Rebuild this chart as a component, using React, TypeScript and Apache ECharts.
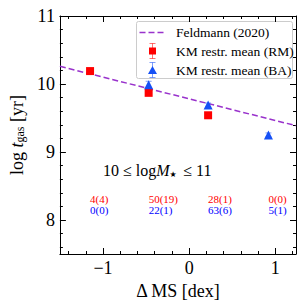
import React, { useEffect, useRef } from "react";
import * as echarts from "echarts";

const xMajor = [-1, 0, 1];
const xMinor = [-1.4, -1.2, -0.8, -0.6, -0.4, -0.2, 0.2, 0.4, 0.6, 0.8, 1.2];
const yMajor = [8, 9, 10, 11];
const yMinor = [7.6, 7.8, 8.2, 8.4, 8.6, 8.8, 9.2, 9.4, 9.6, 9.8, 10.2, 10.4, 10.6, 10.8];

const binX = [-1.15, -0.47, 0.22, 0.92];
const rmX = [-1.15, -0.47, 0.22];
const rmY = [10.19, 9.87, 9.54];
const rmErr = [0.03, 0.03, 0.04];
const baX = [-0.47, 0.22, 0.92];
const baY = [9.99, 9.69, 9.25];
const baErr = [0.05, 0.03, 0.03];
const feldX = [-1.5, 1.24];
const feldY = [10.26, 9.387];
const rmCounts = ["4(4)", "50(19)", "28(1)", "0(0)"];
const baCounts = ["0(0)", "22(1)", "63(6)", "5(1)"];

const FONT = "Liberation Serif";
const RED = "#ff0000";
const BLUE = "#1550f5";
const PURPLE = "#9932cc";

export default function App() {
  const ref = useRef<HTMLDivElement>(null);
  useEffect(() => {
    if (!ref.current) return;
    const chart = echarts.init(ref.current, null, { renderer: "svg" });
    const xMin = -1.5, xMax = 1.24, yMin = 7.5, yMax = 11;
    const fmt = (v: number) => String(v).replace("-", "\u2212");
    const mkX = (pos: string, major: boolean, labels: boolean, extra: any = {}) => ({
      type: "value", min: xMin, max: xMax, position: pos,
      axisLine: { show: major, onZero: false, lineStyle: { color: "#000", width: 1 } },
      axisTick: { show: true, inside: true, length: major ? 6 : 3, customValues: major ? xMajor : xMinor, lineStyle: { color: "#000", width: 1 } },
      axisLabel: { show: labels, customValues: xMajor, formatter: fmt, fontFamily: FONT, fontSize: 18, color: "#000", margin: 5 },
      splitLine: { show: false },
      ...extra,
    });
    const mkY = (pos: string, major: boolean, labels: boolean, extra: any = {}) => ({
      type: "value", min: yMin, max: yMax, position: pos,
      axisLine: { show: major, onZero: false, lineStyle: { color: "#000", width: 1 } },
      axisTick: { show: true, inside: true, length: major ? 6 : 3, customValues: major ? yMajor : yMinor, lineStyle: { color: "#000", width: 1 } },
      axisLabel: { show: labels, customValues: yMajor, formatter: fmt, fontFamily: FONT, fontSize: 18, color: "#000", margin: 5 },
      splitLine: { show: false },
      ...extra,
    });
    const errSeries = (xs: number[], ys: number[], es: number[], color: string) => ({
      type: "custom",
      xAxisIndex: 0, yAxisIndex: 0,
      z: 3,
      data: xs.map((x, i) => [x, ys[i], es[i]]),
      renderItem: (params: any, api: any) => {
        const x = api.value(0), y = api.value(1), e = api.value(2);
        const t = api.coord([x, y + e]);
        const b = api.coord([x, y - e]);
        const st = { stroke: color, lineWidth: 1, opacity: 0.55 };
        return {
          type: "group",
          children: [
            { type: "line", shape: { x1: t[0], y1: t[1], x2: b[0], y2: b[1] }, style: st },
            { type: "line", shape: { x1: t[0] - 3, y1: t[1], x2: t[0] + 3, y2: t[1] }, style: st },
            { type: "line", shape: { x1: b[0] - 3, y1: b[1], x2: b[0] + 3, y2: b[1] }, style: st },
          ],
        };
      },
    });
    const countSeries = (labels: string[], yPos: number, color: string) => ({
      type: "custom",
      xAxisIndex: 0, yAxisIndex: 0,
      data: binX.map((x, i) => [x, yPos, i]),
      renderItem: (params: any, api: any) => {
        const p = api.coord([api.value(0), api.value(1)]);
        return {
          type: "text",
          x: p[0], y: p[1],
          style: { text: labels[api.value(2)], fill: color, font: `11px "${FONT}"`, textAlign: "left", textVerticalAlign: "middle" },
        };
      },
    });
    const L = 136, T = 21;
    chart.setOption({
      animation: false,
      grid: { left: 58, right: 11, top: 16, bottom: 54, containLabel: false },
      xAxis: [
        mkX("bottom", true, true, {
          name: "\u0394 MS [dex]", nameLocation: "middle", nameGap: 26,
          nameTextStyle: { fontFamily: FONT, fontSize: 18, color: "#000" },
        }),
        mkX("bottom", false, false),
        mkX("top", true, false),
        mkX("top", false, false),
      ],
      yAxis: [
        mkY("left", true, true, {
          name: "{r|log }{i|t}{s|gas}{r| [yr]}", nameLocation: "middle", nameGap: 30,
          nameTextStyle: {
            fontFamily: FONT, fontSize: 18, color: "#000",
            rich: {
              r: { fontFamily: FONT, fontSize: 18, color: "#000", verticalAlign: "bottom", lineHeight: 22 },
              i: { fontFamily: FONT, fontSize: 18, fontStyle: "italic", color: "#000", verticalAlign: "bottom", lineHeight: 22 },
              s: { fontFamily: FONT, fontSize: 12, color: "#000", verticalAlign: "bottom", lineHeight: 13 },
            },
          },
        }),
        mkY("left", false, false),
        mkY("right", true, false),
        mkY("right", false, false),
      ],
      series: [
        {
          type: "line", xAxisIndex: 0, yAxisIndex: 0,
          data: feldX.map((x, i) => [x, feldY[i]]),
          symbol: "none",
          lineStyle: { color: PURPLE, width: 1.5, type: [6, 3] },
          z: 2,
        },
        errSeries(rmX, rmY, rmErr, RED),
        errSeries(baX, baY, baErr, BLUE),
        {
          type: "scatter", xAxisIndex: 0, yAxisIndex: 0,
          data: rmX.map((x, i) => [x, rmY[i]]),
          symbol: "rect", symbolSize: 8,
          itemStyle: { color: RED, opacity: 1 }, z: 4,
        },
        {
          type: "scatter", xAxisIndex: 0, yAxisIndex: 0,
          data: baX.map((x, i) => [x, baY[i]]),
          symbol: "triangle", symbolSize: 9,
          itemStyle: { color: BLUE, opacity: 1 }, z: 4,
        },
        countSeries(rmCounts, 8.31, "#ff0000"),
        countSeries(baCounts, 8.15, "#0000ff"),
      ],
      graphic: [
        {
          type: "text", left: 103, top: 162,
          style: {
            text: "{r|10 \u2264 log}{i|M}{s|\u2605 }{r| \u2264 11}",
            rich: {
              r: { fontFamily: FONT, fontSize: 16, fill: "#000", verticalAlign: "bottom", lineHeight: 20 },
              i: { fontFamily: FONT, fontSize: 16, fontStyle: "italic", fill: "#000", verticalAlign: "bottom", lineHeight: 20 },
              s: { fontFamily: "DejaVu Sans", fontSize: 8, fill: "#000", verticalAlign: "bottom", lineHeight: 11 },
            },
          },
        },
        {
          type: "group", left: L, top: T,
          children: [
            { type: "rect", shape: { x: 0, y: 0, width: 156, height: 57, r: 2 }, style: { fill: "#fff", stroke: "#cccccc", lineWidth: 1 } },
            { type: "line", shape: { x1: 3, y1: 11, x2: 28, y2: 11 }, style: { stroke: PURPLE, lineWidth: 1.5, lineDash: [6, 3] } },
            { type: "line", shape: { x1: 16, y1: 22, x2: 16, y2: 37 }, style: { stroke: RED, lineWidth: 1, opacity: 0.55 } },
            { type: "line", shape: { x1: 13, y1: 22, x2: 19, y2: 22 }, style: { stroke: RED, lineWidth: 1, opacity: 0.55 } },
            { type: "line", shape: { x1: 13, y1: 37, x2: 19, y2: 37 }, style: { stroke: RED, lineWidth: 1, opacity: 0.55 } },
            { type: "rect", shape: { x: 12.5, y: 26, width: 7, height: 7 }, style: { fill: RED } },
            { type: "line", shape: { x1: 16, y1: 41, x2: 16, y2: 56 }, style: { stroke: BLUE, lineWidth: 1, opacity: 0.55 } },
            { type: "line", shape: { x1: 13, y1: 41, x2: 19, y2: 41 }, style: { stroke: BLUE, lineWidth: 1, opacity: 0.55 } },
            { type: "line", shape: { x1: 13, y1: 56, x2: 19, y2: 56 }, style: { stroke: BLUE, lineWidth: 1, opacity: 0.55 } },
            { type: "polygon", shape: { points: [[16, 44.5], [20.5, 52.5], [11.5, 52.5]] }, style: { fill: BLUE } },
            { type: "text", x: 39.5, y: 11, style: { text: "Feldmann (2020)", font: `13.5px "${FONT}"`, fill: "#000", textVerticalAlign: "middle" } },
            { type: "text", x: 39.5, y: 29.5, style: { text: "KM restr. mean (RM)", font: `13.5px "${FONT}"`, fill: "#000", textVerticalAlign: "middle" } },
            { type: "text", x: 39.5, y: 48.5, style: { text: "KM restr. mean (BA)", font: `13.5px "${FONT}"`, fill: "#000", textVerticalAlign: "middle" } },
          ],
        },
      ],
    });
    return () => chart.dispose();
  }, []);
  return <div ref={ref} style={{ width: 307, height: 308, position: "absolute", left: 0, top: 0 }} />;
}
